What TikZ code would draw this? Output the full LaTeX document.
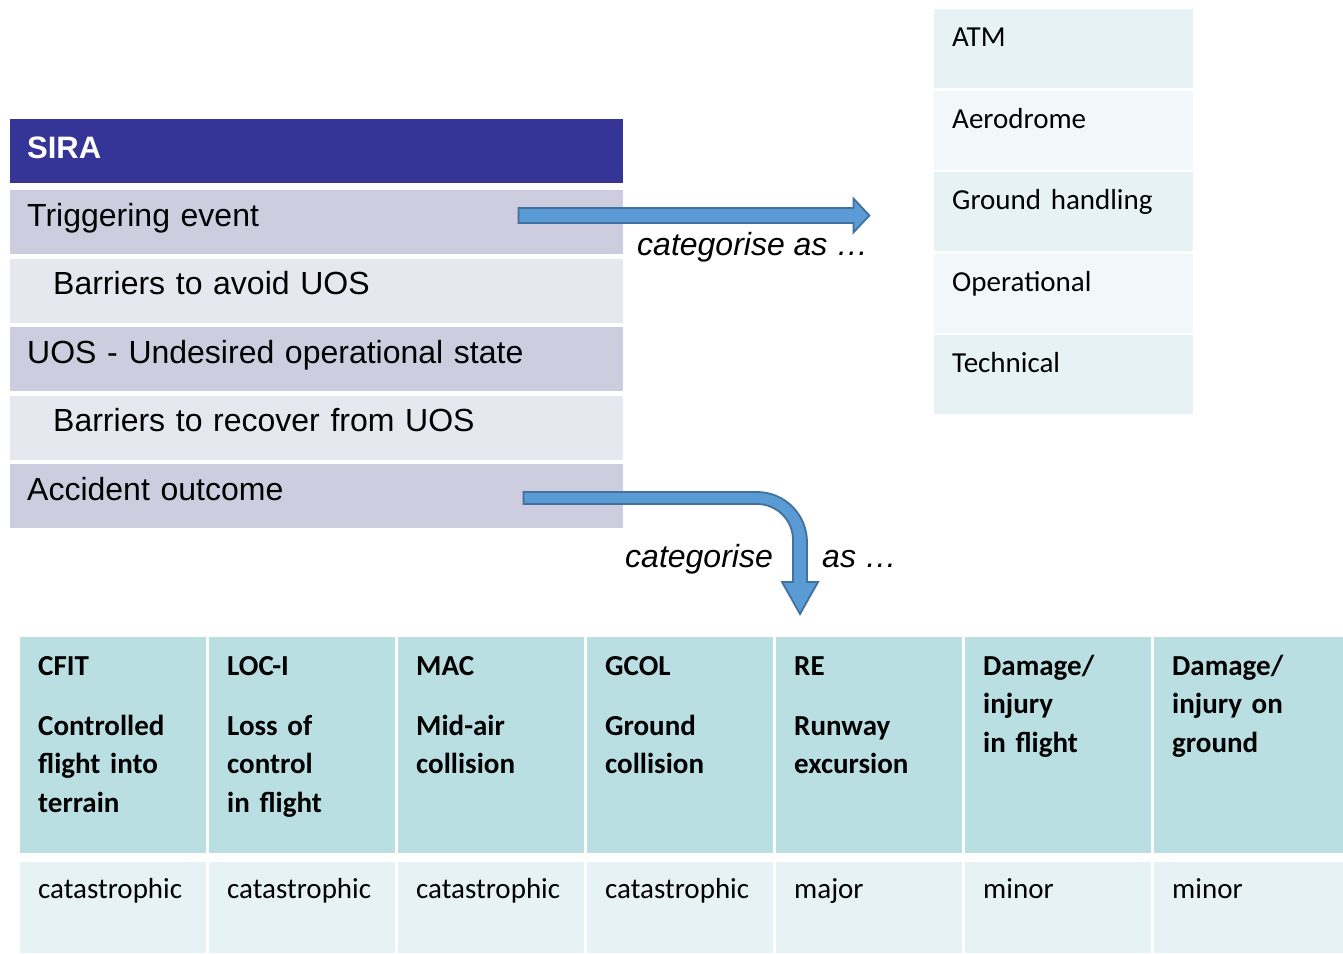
\documentclass[tikz,border=0pt]{standalone}
\usepackage{fontspec}
\setmainfont{Liberation Sans}
\newfontfamily\cellfont{Carlito}
\usetikzlibrary{calc}

\definecolor{siraBlue}{HTML}{353598}
\definecolor{rowDark}{HTML}{CECDE0}
\definecolor{rowLight}{HTML}{E7E7EF}
\definecolor{listA}{HTML}{E6F2F4}
\definecolor{listB}{HTML}{F2F8FA}
\definecolor{headTeal}{HTML}{BADFE3}
\definecolor{dataTeal}{HTML}{E6F2F4}
\definecolor{arrowFill}{HTML}{5B9BD5}
\definecolor{arrowLine}{HTML}{41719C}

\tikzset{
    cell/.style={anchor=north west, inner ysep=0pt, align=left},
    sirahead/.style={cell, inner xsep=17pt, fill=siraBlue, text=white, text width=579pt,
        text height=39pt, text depth=25pt, font=\fontsize{31}{37}\selectfont\bfseries},
    sirarow/.style={cell, inner xsep=17pt, fill=rowDark, text width=579pt,
        text height=36pt, text depth=28pt, font=\fontsize{32}{38}\selectfont},
    barrier/.style={sirarow, fill=rowLight, execute at begin node={\hspace*{26pt}}},
    listcell/.style={cell, inner xsep=18pt, text width=223pt,
        text height=37.5pt, text depth=41.5pt, font=\cellfont\fontsize{29}{35}\selectfont},
    eventcell/.style={cell, inner xsep=18pt, fill=headTeal, text width=150pt,
        text height=38pt, text depth=178pt, font=\cellfont\bfseries\fontsize{29}{38.5}\selectfont},
    sevcell/.style={cell, inner xsep=18pt, fill=dataTeal, text width=150pt,
        text height=36pt, text depth=55pt, font=\cellfont\fontsize{29}{35}\selectfont},
    catlabel/.style={anchor=base west, inner sep=0pt, font=\fontsize{32}{38}\selectfont\itshape},
    catarrow/.style={fill=arrowFill, draw=arrowLine, line width=1.8pt, line join=miter}
}

\begin{document}
\begin{tikzpicture}[x=1pt, y=-1pt]
            \useasboundingbox (0,0) rectangle (1343,953);

            % SIRA table
            \node[sirahead] at (10,119) (sira) {SIRA};
            \node[sirarow] at (10,190) (trig) {Triggering event};
            \node[barrier] at (10,258.5) (avoid) {Barriers to avoid UOS};
            \node[sirarow] at (10,327) (uos) {UOS - Undesired operational state};
            \node[barrier] at (10,395.5) (recover) {Barriers to recover from UOS};
            \node[sirarow] at (10,464) (acc) {Accident outcome};

            % event categories
            \node[listcell, fill=listA] at (934,9) (atm) {ATM};
            \node[listcell, fill=listB] at (934,90.5) (aero) {Aerodrome};
            \node[listcell, fill=listA] at (934,172) (ground) {Ground handling};
            \node[listcell, fill=listB] at (934,253.5) (oper) {Operational};
            \node[listcell, fill=listA] at (934,335) (tech) {Technical};

            % triggering event -> categories
            \coordinate (catA) at ($(trig.north east)+(-105,25.5)$);
            \coordinate (catB) at ($(catA)+(351,0)$);
            \draw[catarrow] ($(catA)+(0,-7.5)$) -- ($(catB)+(-16,-7.5)$) -- ($(catB)+(-16,-17)$) -- (catB)
                -- ($(catB)+(-16,17)$) -- ($(catB)+(-16,7.5)$) -- ($(catA)+(0,7.5)$) -- cycle;
            \node[catlabel] at (637,255) (catTop) {categorise as …};

            % accident outcome -> outcome table
            \coordinate (catC) at ($(acc.north east)+(-100,34)$);
            \coordinate (catD) at (800,614);
            \draw[catarrow] ($(catC)+(0,-6)$) -- ($(catD)+(-43,-122)$) arc[start angle=-90, end angle=0, radius=50]
                -- ($(catD)+(7,-32)$) -- ($(catD)+(18,-32)$) -- (catD) -- ($(catD)+(-18,-32)$)
                -- ($(catD)+(-7,-32)$) -- ($(catD)+(-7,-74)$) arc[start angle=0, end angle=-90, radius=36]
                -- ($(catD)+(-43,-110)$) -- ($(catC)+(0,6)$) -- cycle;
            \node[catlabel] at (625,567) (catLeft) {categorise};
            \node[catlabel] at (822,567) (catRight) {as …};

            % accident outcomes
            \node[eventcell] at (20,637) (cfit) {CFIT\\[21.5pt]Controlled\\flight into\\terrain};
            \node[eventcell] at (209,637) (loci) {LOC-I\\[21.5pt]Loss of\\control\\in flight};
            \node[eventcell] at (398,637) (mac) {MAC\\[21.5pt]Mid-air\\collision};
            \node[eventcell] at (587,637) (gcol) {GCOL\\[21.5pt]Ground\\collision};
            \node[eventcell] at (776,637) (re) {RE\\[21.5pt]Runway\\excursion};
            \node[eventcell] at (965,637) (dif) {Damage/\\injury\\in flight};
            \node[eventcell, text width=153pt] at (1154,637) (dig) {Damage/\\injury on\\ground};

            % severity
            \node[sevcell] at (20,862) (sevCfit) {catastrophic};
            \node[sevcell] at (209,862) (sevLoci) {catastrophic};
            \node[sevcell] at (398,862) (sevMac) {catastrophic};
            \node[sevcell] at (587,862) (sevGcol) {catastrophic};
            \node[sevcell] at (776,862) (sevRe) {major};
            \node[sevcell] at (965,862) (sevDif) {minor};
            \node[sevcell, text width=153pt] at (1154,862) (sevDig) {minor};
\end{tikzpicture}
\end{document}
